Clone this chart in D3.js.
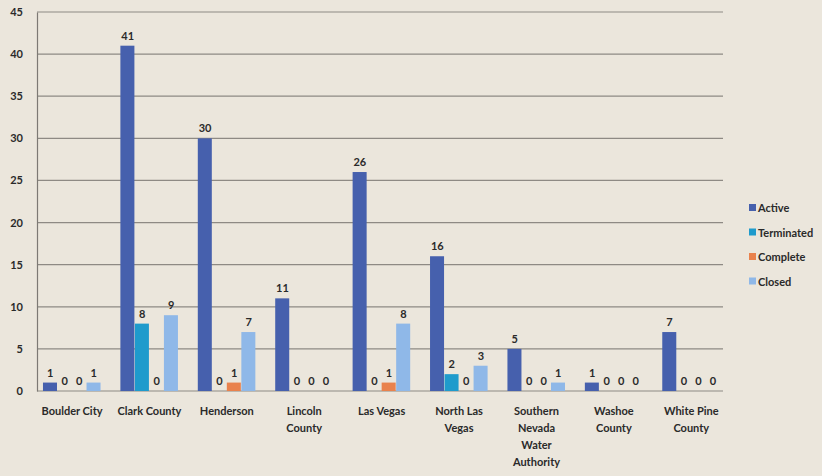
<!DOCTYPE html>
<html><head><meta charset="utf-8">
<script src="https://cdn.jsdelivr.net/npm/d3@7"></script>
<style>
html,body{margin:0;padding:0;background:#ebe6dc;}
svg{display:block;}
text{font-family:Lato,"Open Sans",sans-serif;font-weight:bold;fill:#2a2a2a;}
</style></head><body>
<svg id="chart" width="822" height="476"></svg>
<script>
const categories = [["Boulder City"],["Clark County"],["Henderson"],["Lincoln","County"],["Las Vegas"],["North Las","Vegas"],["Southern","Nevada","Water","Authority"],["Washoe","County"],["White Pine","County"]];
const seriesNames = ["Active","Terminated","Complete","Closed"];
const active     = [1,41,30,11,26,16,5,1,7];
const terminated = [0,8,0,0,0,2,0,0,0];
const complete   = [0,0,1,0,1,0,0,0,0];
const closed     = [1,9,7,0,8,3,1,0,0];
const yTicks = [0,5,10,15,20,25,30,35,40,45];
const colors = ["#4660ad","#1f9bcc","#e9824d","#8fb8e8"];

const seriesValues = [active, terminated, complete, closed];
const svg = d3.select("#chart");
const W = 822, H = 476;
svg.append("rect").attr("width",W).attr("height",H).attr("fill","#ebe6dc");

const x0 = d3.scaleBand().domain(d3.range(categories.length)).range([33.3, 730]).paddingInner(0.25).paddingOuter(0.125);
const x1 = d3.scaleBand().domain(d3.range(seriesNames.length)).range([0, x0.bandwidth()]);
const y = d3.scaleLinear().domain([0,45]).range([391,12]);

// gridlines
svg.append("g").selectAll("line").data(yTicks).join("line")
  .attr("x1",37).attr("x2",723).attr("y1",d=>y(d)).attr("y2",d=>y(d))
  .attr("stroke","#8e8a84").attr("stroke-width",1.2);

// y axis
const yAxis = svg.append("g").attr("transform","translate(37,0)")
  .call(d3.axisLeft(y).tickValues(yTicks).tickSize(0).tickPadding(14));
yAxis.select(".domain").attr("stroke","#7d7974").attr("stroke-width",1.2);
yAxis.selectAll("text").attr("font-size",11).style("font-family","Lato,sans-serif").style("font-weight","bold").attr("fill","#333");

// bars
const groups = svg.append("g").selectAll("g").data(categories).join("g")
  .attr("transform",(d,i)=>`translate(${x0(i)},0)`);
groups.each(function(d,i){
  const g = d3.select(this);
  seriesValues.forEach((vals,s)=>{
    const v = vals[i];
    g.append("rect").attr("x",x1(s)).attr("width",x1.bandwidth()-0.5)
      .attr("y",y(v)).attr("height",y(0)-y(v)).attr("fill",colors[s]);
    g.append("text").attr("x",x1(s)+x1.bandwidth()/2).attr("y",y(v)-6)
      .attr("text-anchor","middle").attr("font-size",11).text(v);
  });
});

// x labels
groups.each(function(d,i){
  const t = d3.select(this).append("text").attr("text-anchor","middle")
    .attr("x",x0.bandwidth()/2).attr("y",415).attr("font-size",11);
  d.forEach((line,k)=>t.append("tspan").attr("x",x0.bandwidth()/2).attr("dy",k?17:0).text(line));
});

// legend
const leg = svg.append("g").attr("transform","translate(749,208)");
seriesNames.forEach((n,i)=>{
  const g = leg.append("g").attr("transform",`translate(0,${i*24.5})`);
  g.append("rect").attr("x",0).attr("y",-4).attr("width",7).attr("height",7).attr("fill",colors[i]);
  g.append("text").attr("x",9).attr("y",4).attr("font-size",11).text(n);
});
</script></body></html>
